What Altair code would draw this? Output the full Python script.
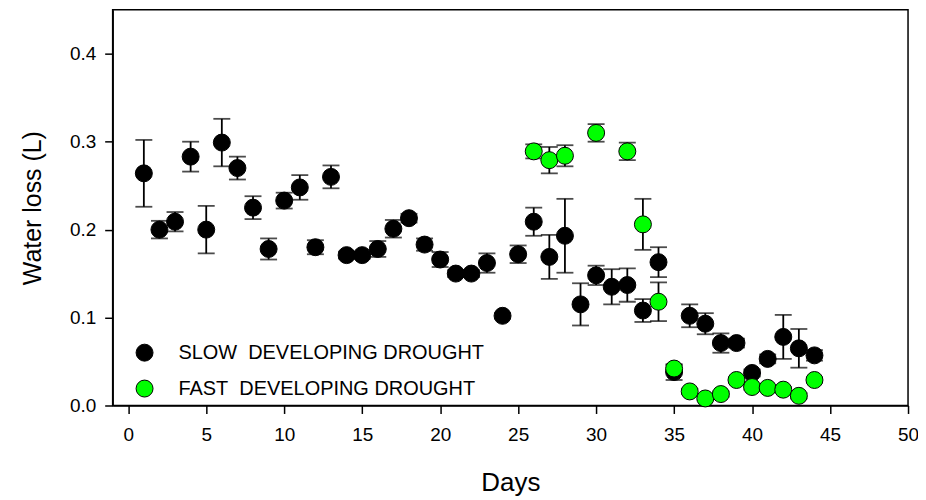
import altair as alt
import pandas as pd

# ---- data ----
slow_days = list(range(1, 45))
slow_mean = [0.264, 0.200, 0.209, 0.283, 0.200, 0.299, 0.270, 0.225, 0.178, 0.233,
             0.248, 0.180, 0.260, 0.171, 0.171, 0.178, 0.201, 0.213, 0.183, 0.166,
             0.150, 0.150, 0.162, 0.102, 0.172, 0.209, 0.169, 0.193, 0.115, 0.148,
             0.135, 0.137, 0.108, 0.163, 0.038, 0.102, 0.093, 0.071, 0.071, 0.037,
             0.053, 0.078, 0.065, 0.057]
slow_sem = [0.038, 0.010, 0.011, 0.017, 0.027, 0.027, 0.013, 0.013, 0.012, 0.009,
            0.014, 0.008, 0.013, 0.004, 0.004, 0.009, 0.010, 0.005, 0.007, 0.0085,
            0.004, 0.004, 0.011, 0.003, 0.010, 0.016, 0.025, 0.042, 0.024, 0.011,
            0.020, 0.019, 0.013, 0.017, 0.009, 0.013, 0.012, 0.011, 0.005, 0.004,
            0.005, 0.025, 0.022, 0.006]

fast_days = [26, 27, 28, 30, 32, 33, 34, 35, 36, 37, 38, 39, 40, 41, 42, 43, 44]
fast_mean = [0.289, 0.279, 0.284, 0.310, 0.289, 0.206, 0.118, 0.042, 0.016, 0.008,
             0.013, 0.029, 0.021, 0.020, 0.018, 0.011, 0.029]
fast_sem = [0.008, 0.015, 0.012, 0.010, 0.010, 0.029, 0.022, 0.004, 0.003, 0.002,
            0.003, 0.003, 0.003, 0.003, 0.003, 0.003, 0.003]

series_names = ["SLOW\u00a0 DEVELOPING DROUGHT", "FAST\u00a0 DEVELOPING DROUGHT"]
series_colors = ["#000000", "#00ff00"]

x_ticks = list(range(0, 51, 5))
y_ticks = [0.0, 0.1, 0.2, 0.3, 0.4]

# ---- table ----
slow = pd.DataFrame({"day": slow_days, "mean": slow_mean, "sem": slow_sem,
                     "series": series_names[0]})
fast = pd.DataFrame({"day": fast_days, "mean": fast_mean, "sem": fast_sem,
                     "series": series_names[1]})
df = pd.concat([slow, fast], ignore_index=True)
df["lo"] = df["mean"] - df["sem"]
df["hi"] = df["mean"] + df["sem"]
df["order"] = df["series"].map({series_names[0]: 0, series_names[1]: 1})

FONT = "Liberation Sans"

x_enc = alt.X("day:Q",
              scale=alt.Scale(domain=[-1, 50], nice=False, zero=False),
              axis=alt.Axis(values=x_ticks, title="Days", format="d",
                            labelFlush=False, labelPadding=12, titlePadding=25,
                            titleFontSize=26))
y_scale = alt.Scale(domain=[0, 0.45], nice=False)
y_axis = alt.Axis(values=y_ticks, format=".1f", title="Water loss (L)",
                  labelFlush=False, labelPadding=9, titlePadding=24,
                  titleFontSize=25)

base = alt.Chart(df)

err_rule = base.mark_rule(color="black", strokeWidth=1.8).encode(
    x=x_enc,
    y=alt.Y("lo:Q", scale=y_scale, axis=y_axis),
    y2="hi:Q",
)
cap_lo = base.mark_tick(color="black", orient="horizontal", size=17, thickness=1.8).encode(
    x="day:Q", y=alt.Y("lo:Q", scale=y_scale))
cap_hi = base.mark_tick(color="black", orient="horizontal", size=17, thickness=1.8).encode(
    x="day:Q", y=alt.Y("hi:Q", scale=y_scale))

points = base.mark_point(shape="circle", filled=True, size=290, stroke="black",
                         strokeWidth=1, opacity=1).encode(
    x="day:Q",
    y=alt.Y("mean:Q", scale=y_scale),
    fill=alt.Fill("series:N",
                  scale=alt.Scale(domain=series_names, range=series_colors),
                  legend=alt.Legend(title=None, orient="none", legendX=22, legendY=334,
                                    symbolType="circle", symbolSize=290,
                                    symbolStrokeColor="black", symbolStrokeWidth=1,
                                    labelFont=FONT, labelFontSize=20, labelColor="black",
                                    labelLimit=0, labelOffset=24, rowPadding=14,
                                    padding=0)),
    order=alt.Order("order:Q"),
)

chart = alt.layer(err_rule, cap_lo, cap_hi, points).properties(
    width=798, height=397,
    background="white",
    autosize=alt.AutoSizeParams(type="none"),
    padding={"left": 105, "top": 1, "right": 10, "bottom": 90},
).configure_view(
    stroke="black", strokeWidth=1.5
).configure_axis(
    grid=False, domainColor="black", domainWidth=1.5, tickColor="black",
    tickWidth=1.5, tickSize=8, labelFont=FONT, labelFontSize=19,
    labelColor="black", titleFont=FONT, titleFontWeight="normal",
    titleColor="black"
)

chart.save("out.html", embed_options={"renderer": "svg", "actions": False})
